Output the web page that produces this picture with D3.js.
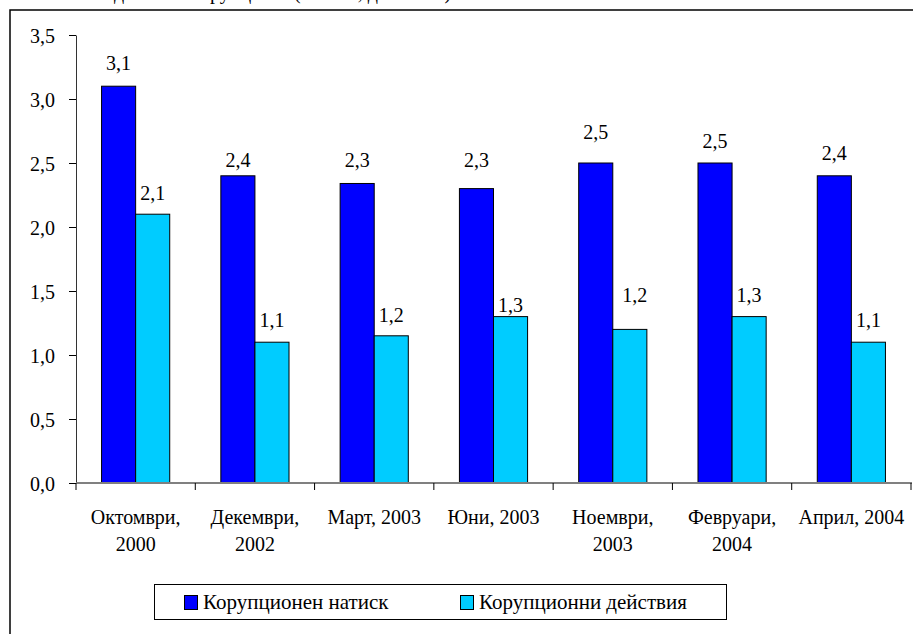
<!DOCTYPE html>
<html>
<head>
        <meta charset="utf-8">
        <script src="https://d3js.org/d3.v7.min.js"></script>
        <style>
            body { margin: 0; background: #fff; }
            svg text { font-family: "Liberation Serif", "Times New Roman", serif !important; fill: #000; }
        </style>
</head>
<body>
        <script type="text/javascript">

            // data
            var categories = [
                ["Октомври,", "2000"],
                ["Декември,", "2002"],
                ["Март, 2003"],
                ["Юни, 2003"],
                ["Ноември,", "2003"],
                ["Февруари,", "2004"],
                ["Април, 2004"]
            ];
            var seriesNames = ["Корупционен натиск", "Корупционни действия"];
            var natisk   = [3.1, 2.4, 2.34, 2.3, 2.5, 2.5, 2.4];
            var deistvia = [2.1, 1.1, 1.15, 1.3, 1.2, 1.3, 1.1];
            var yTicks = [0, 0.5, 1.0, 1.5, 2.0, 2.5, 3.0, 3.5];
            var titleText = "Индекси на корупцията (натиск, действия)";

            var colors = ["#0000ff", "#00ccff"];
            var serif = '"Liberation Serif", "Times New Roman", serif';

            var width = 913,
                height = 634;

            var svg = d3.select('body')
                .append('svg')
                .attr('width', width)
                .attr('height', height);

            // title sits above the picture, only its descenders show
            svg.append('text')
                .attr('x', 270)
                .attr('y', -1.5)
                .attr('text-anchor', 'middle')
                .style('font-size', '20px')
                .style('font-family', serif)
                .text(titleText);

            // outer frame (right / bottom run off the picture)
            svg.append('path')
                .attr('d', 'M10,' + (height + 5) + 'V10H' + (width + 5))
                .attr('fill', 'none')
                .attr('stroke', '#000')
                .attr('stroke-width', 1.5);

            var x = d3.scaleBand()
                .domain(d3.range(categories.length))
                .range([76, 911]);

            // Excel style gap width 150%
            var x1 = d3.scaleBand()
                .domain([0, 1])
                .range([0, x.bandwidth()])
                .paddingInner(0)
                .paddingOuter(0.75);

            var y = d3.scaleLinear()
                .domain([0, 3.5])
                .range([483, 35]);

            var fmt = function(v) {
                return (Math.round(v * 10 + 1e-6) / 10).toFixed(1).replace('.', ',');
            };

            // y axis
            var yAxis = svg.append('g')
                .attr('transform', 'translate(76,0)')
                .call(d3.axisLeft(y).tickValues(yTicks).tickFormat(fmt).tickSize(7).tickSizeOuter(0));
            yAxis.attr('font-family', serif).attr('font-size', 20);
            yAxis.select('.domain').attr('stroke', '#333');
            yAxis.selectAll('.tick line').attr('stroke', '#000');
            yAxis.selectAll('.tick text')
                .attr('x', -21)
                .attr('dy', '0.38em')
                .style('font-size', '20px')
                .style('font-family', serif);

            // bars
            var rows = categories.map(function(c, i) { return [natisk[i], deistvia[i]]; });

            var groups = svg.append('g').selectAll('g')
                .data(rows)
                .enter().append('g')
                  .attr('transform', (d, i) => 'translate(' + x(i) + ',0)');

            groups.selectAll('rect')
                .data(d => d)
                .enter().append('rect')
                  .attr('x', (d, j) => x1(j))
                  .attr('y', d => y(d))
                  .attr('width', x1.bandwidth())
                  .attr('height', d => y(0) - y(d))
                  .attr('fill', (d, j) => colors[j])
                  .attr('stroke', '#000')
                  .attr('stroke-width', 1);

            // label nudges (baseline above bar top), as placed in the original
            var labelLift = [
                [16, 14], [8.5, 15.5], [16.5, 14], [21.5, 5], [24.5, 27.5], [15.5, 15], [16, 15.5]
            ];
            var labelShift = [
                [0, 0], [0, 0], [0, 0], [0, 0], [0, 5], [0, 0], [0, 0]
            ];

            groups.each(function(d, i) {
                d3.select(this).selectAll('text.lbl')
                    .data(d)
                    .enter().append('text')
                      .attr('class', 'lbl')
                      .attr('x', (v, j) => x1(j) + x1.bandwidth() / 2 + labelShift[i][j])
                      .attr('y', (v, j) => y(v) - labelLift[i][j])
                      .attr('text-anchor', 'middle')
                      .style('font-size', '20px')
                      .style('font-family', serif)
                      .text(fmt);
            });

            // x axis
            var xg = svg.append('g');
            xg.append('line')
                .attr('x1', 76).attr('x2', 912)
                .attr('y1', y(0)).attr('y2', y(0))
                .attr('stroke', '#808080')
                .attr('stroke-width', 2);

            var bounds = d3.range(categories.length).map(i => x(i)).concat([x.range()[1]]);
            xg.selectAll('line.tk')
                .data(bounds)
                .enter().append('line')
                  .attr('class', 'tk')
                  .attr('x1', d => d).attr('x2', d => d)
                  .attr('y1', y(0)).attr('y2', y(0) + 7)
                  .attr('stroke', '#000');

            xg.selectAll('text.cat')
                .data(categories)
                .enter().append('text')
                  .attr('class', 'cat')
                  .attr('text-anchor', 'middle')
                  .attr('transform', (d, i) => 'translate(' + (x(i) + x.bandwidth() / 2) + ',524)')
                  .style('font-size', '20px')
                  .style('font-family', serif)
                .selectAll('tspan')
                  .data(d => d)
                  .enter().append('tspan')
                    .attr('x', 0)
                    .attr('y', (d, k) => k * 27)
                    .text(d => d);

            // legend
            var lg = svg.append('g');
            lg.append('rect')
                .attr('x', 154.5).attr('y', 584.5)
                .attr('width', 572).attr('height', 35)
                .attr('fill', '#fff')
                .attr('stroke', '#000')
                .attr('stroke-width', 1);

            var legendX = [184, 460];
            seriesNames.forEach(function(name, j) {
                lg.append('rect')
                    .attr('x', legendX[j] + 0.5).attr('y', 595.5)
                    .attr('width', 13).attr('height', 14)
                    .attr('fill', colors[j])
                    .attr('stroke', '#000');
                lg.append('text')
                    .attr('x', legendX[j] + 19)
                    .attr('y', 609)
                    .style('font-size', '21px')
                    .style('font-family', serif)
                    .text(name);
            });

        </script>
</body>
</html>
